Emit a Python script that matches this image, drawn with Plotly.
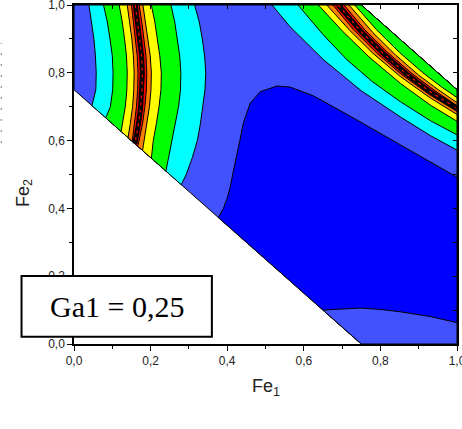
import plotly.graph_objects as go

# ---------------- data (Fe1, Fe2) ----------------
# domain of the map: Fe1 + Fe2 between 0.75 and 1.75, inside the unit square
DOMAIN = [(0.0, 0.75), (0.0, 1.0), (0.75, 1.0), (1.0, 0.75), (1.0, 0.0), (0.75, 0.0)]
CORNER_RIGHT = (1.0, 0.75)
CORNER_TOP = (0.75, 1.0)
BOTTOM_RIGHT = (1.0, 0.0)
BOTTOM_DIAG = (0.75, 0.0)

# left ridge contour lines (top edge -> lower diagonal)
L1 = [(0.039, 1.0), (0.046, 0.95), (0.052, 0.9), (0.056, 0.85), (0.058, 0.8), (0.057, 0.75), (0.047, 0.703)]
L2 = [(0.077, 1.0), (0.087, 0.95), (0.094, 0.9), (0.100, 0.85), (0.102, 0.8), (0.101, 0.75), (0.095, 0.7), (0.083, 0.667)]
L3 = [(0.118, 1.0), (0.126, 0.95), (0.132, 0.9), (0.137, 0.85), (0.139, 0.8), (0.138, 0.75), (0.134, 0.7), (0.127, 0.65), (0.123, 0.627)]
L4 = [(0.139, 1.0), (0.145, 0.95), (0.151, 0.9), (0.155, 0.85), (0.157, 0.8), (0.156, 0.75), (0.153, 0.7), (0.147, 0.65), (0.141, 0.609)]
L5 = [(0.150, 1.0), (0.155, 0.95), (0.160, 0.9), (0.165, 0.85), (0.167, 0.8), (0.166, 0.75), (0.163, 0.7), (0.158, 0.65), (0.152, 0.598)]
LM = [(0.160, 1.0), (0.166, 0.95), (0.1715, 0.9), (0.1765, 0.85), (0.1785, 0.8), (0.1775, 0.75), (0.174, 0.7), (0.1685, 0.65), (0.159, 0.591)]
L6 = [(0.170, 1.0), (0.177, 0.95), (0.183, 0.9), (0.188, 0.85), (0.190, 0.8), (0.189, 0.75), (0.185, 0.7), (0.179, 0.65), (0.170, 0.6), (0.166, 0.584)]
L7 = [(0.180, 1.0), (0.187, 0.95), (0.193, 0.9), (0.199, 0.85), (0.202, 0.8), (0.201, 0.75), (0.197, 0.7), (0.191, 0.65), (0.183, 0.6), (0.179, 0.571)]
L8 = [(0.202, 1.0), (0.211, 0.95), (0.218, 0.9), (0.224, 0.85), (0.228, 0.8), (0.227, 0.75), (0.222, 0.7), (0.215, 0.65), (0.207, 0.6), (0.202, 0.548)]
L9 = [(0.253, 1.0), (0.263, 0.95), (0.270, 0.9), (0.276, 0.85), (0.279, 0.8), (0.278, 0.75), (0.273, 0.7), (0.265, 0.65), (0.256, 0.6), (0.247, 0.55), (0.240, 0.510)]
L10 = [(0.315, 1.0), (0.327, 0.95), (0.335, 0.9), (0.341, 0.85), (0.344, 0.8), (0.342, 0.75), (0.336, 0.7), (0.330, 0.65), (0.322, 0.6), (0.309, 0.55), (0.293, 0.5), (0.280, 0.470)]

# right ridge contour lines (top edge -> right edge)
R1 = [(0.517, 1.0), (0.564, 0.936), (0.651, 0.839), (0.75, 0.747), (0.852, 0.670), (0.93, 0.615), (1.0, 0.572)]
R2 = [(0.585, 1.0), (0.65, 0.913), (0.713, 0.838), (0.78, 0.773), (0.852, 0.715), (0.93, 0.659), (1.0, 0.617)]
R3 = [(0.638, 1.0), (0.70, 0.924), (0.77, 0.847), (0.852, 0.769), (0.93, 0.705), (1.0, 0.657)]
R4 = [(0.660, 1.0), (0.72, 0.925), (0.78, 0.858), (0.852, 0.789), (0.93, 0.726), (1.0, 0.677)]
R5 = [(0.676, 1.0), (0.73, 0.927), (0.79, 0.859), (0.852, 0.798), (0.93, 0.734), (1.0, 0.686)]
RM = [(0.690, 1.0), (0.75, 0.921), (0.81, 0.854), (0.87, 0.795), (0.93, 0.744), (1.0, 0.695)]
R6 = [(0.705, 1.0), (0.76, 0.926), (0.82, 0.859), (0.88, 0.800), (0.94, 0.749), (1.0, 0.703)]
R7 = [(0.718, 1.0), (0.78, 0.919), (0.84, 0.852), (0.90, 0.793), (0.95, 0.751), (1.0, 0.712)]
R8 = [(0.733, 1.0), (0.79, 0.927), (0.85, 0.860), (0.91, 0.801), (0.96, 0.758), (1.0, 0.727)]

# lowest level region (dark blue), lower diagonal -> right edge
DARK = [(0.377, 0.373), (0.390, 0.40), (0.400, 0.43), (0.408, 0.464), (0.416, 0.51), (0.425, 0.553),
        (0.433, 0.60), (0.442, 0.651), (0.460, 0.710), (0.486, 0.744), (0.530, 0.761), (0.564, 0.758),
        (0.625, 0.732), (0.712, 0.678), (0.800, 0.621), (0.887, 0.567), (1.0, 0.492)]
# second level pocket at the bottom, lower diagonal -> right edge
POCKET = [(0.650, 0.100), (0.70, 0.104), (0.747, 0.106), (0.80, 0.102), (0.852, 0.095), (0.93, 0.081), (1.0, 0.063)]

TICKS = [0.0, 0.2, 0.4, 0.6, 0.8, 1.0]
TICK_TEXT = ["0,0", "0,2", "0,4", "0,6", "0,8", "1,0"]
MINOR = [0.1, 0.3, 0.5, 0.7, 0.9]
FINE = [0.1, 0.2, 0.3, 0.4, 0.5, 0.6, 0.7, 0.8, 0.9]
LABEL = "Ga1 = 0,25"

# level colours
C_DARK = "#0000FF"
C_ROYAL = "#4352FF"
C_CYAN = "#00FFFF"
C_GREEN = "#00FF00"
C_YELLOW = "#FFFF00"
C_ORANGE = "#FF8000"
C_RED = "#FF0000"

# ---------------- figure ----------------
fig = go.Figure()


def poly(points, color):
    xs = [p[0] for p in points] + [points[0][0]]
    ys = [p[1] for p in points] + [points[0][1]]
    fig.add_trace(go.Scatter(x=xs, y=ys, mode="lines", fill="toself", fillcolor=color,
                             line=dict(color="black", width=1), hoverinfo="skip"))


def line(points, color, width, dash="solid"):
    fig.add_trace(go.Scatter(x=[p[0] for p in points], y=[p[1] for p in points], mode="lines",
                             line=dict(color=color, width=width, dash=dash), hoverinfo="skip"))


poly(DOMAIN, C_ROYAL)
poly(DARK + [BOTTOM_RIGHT, BOTTOM_DIAG], C_DARK)
poly(POCKET + [BOTTOM_RIGHT, BOTTOM_DIAG], C_ROYAL)

# left ridge bands (outer to inner)
for a, b, col in [(L1, L10, C_CYAN), (L2, L9, C_GREEN), (L3, L8, C_YELLOW), (L4, L7, C_ORANGE), (L5, L6, C_RED)]:
    poly(a + b[::-1], col)
line(LM, "black", 5)
line(LM, C_RED, 1.2, "3px,4px")

# right ridge bands (each fills everything above its line)
for r, col in [(R1, C_CYAN), (R2, C_GREEN), (R3, C_YELLOW), (R4, C_ORANGE), (R5, C_RED),
               (R6, C_ORANGE), (R7, C_YELLOW), (R8, C_GREEN)]:
    poly(r + [CORNER_RIGHT, CORNER_TOP], col)
line(RM, "black", 5)
line(RM, C_RED, 1.2, "3px,4px")

# helper trace for the mirrored (inner tick) axes
fig.add_trace(go.Scatter(x=[None], y=[None], xaxis="x2", yaxis="y2", mode="lines", hoverinfo="skip"))

tickfont = dict(family="Liberation Sans, Arial, sans-serif", size=12, color="#222")
axis_common = dict(range=[0, 1], showgrid=False, zeroline=False, showline=True, linecolor="black",
                   linewidth=1.5, mirror=True, ticks="outside", ticklen=5, tickwidth=1, tickcolor="black",
                   tickmode="array", tickvals=TICKS, ticktext=TICK_TEXT, tickfont=tickfont,
                   ticklabeloverflow="allow", automargin=False,
                   minor=dict(ticks="outside", ticklen=3, tickcolor="black", tickmode="array", tickvals=MINOR))
inner_common = dict(range=[0, 1], showgrid=False, zeroline=False, showline=False, ticks="inside",
                    ticklen=4, tickcolor="black", tickmode="array", tickvals=FINE,
                    showticklabels=False, automargin=False)

fig.update_layout(
    width=462, height=429,
    margin=dict(l=74, r=5, t=5, b=85, pad=0, autoexpand=False),
    plot_bgcolor="white", paper_bgcolor="white", showlegend=False,
    xaxis=dict(**axis_common),
    yaxis=dict(**axis_common),
    xaxis2=dict(overlaying="x", side="top", anchor="y", **inner_common),
    yaxis2=dict(overlaying="y", side="right", anchor="x", **inner_common),
    shapes=[
        dict(type="rect", xref="paper", yref="paper", x0=-0.137, x1=0.360, y0=0.0215, y1=0.2006,
             fillcolor="white", line=dict(color="black", width=2), layer="above"),
        dict(type="line", xref="paper", yref="paper", x0=-0.19, x1=-0.19, y0=0.593, y1=0.888,
             line=dict(color="#777", width=1, dash="2px,9px"), layer="above"),
    ],
    annotations=[
        dict(text=LABEL, xref="paper", yref="paper", x=0.1116, y=0.112, showarrow=False,
             font=dict(family="Liberation Serif, Times New Roman, serif", size=30, color="black"),
             xanchor="center", yanchor="middle"),
        dict(text="Fe<sub>1</sub>", xref="paper", yref="paper", x=0.5, y=-0.127, showarrow=False,
             font=dict(family="Liberation Sans, Arial, sans-serif", size=18, color="#222"),
             xanchor="center", yanchor="middle"),
        dict(text="Fe<sub>2</sub>", xref="paper", yref="paper", x=-0.131, y=0.445, showarrow=False,
             textangle=-90, font=dict(family="Liberation Sans, Arial, sans-serif", size=18, color="#222"),
             xanchor="center", yanchor="middle"),
    ],
)

fig.write_html("out.html", config={"displayModeBar": False},
               post_script="document.body.style.margin='0';document.body.style.overflow='hidden';")
